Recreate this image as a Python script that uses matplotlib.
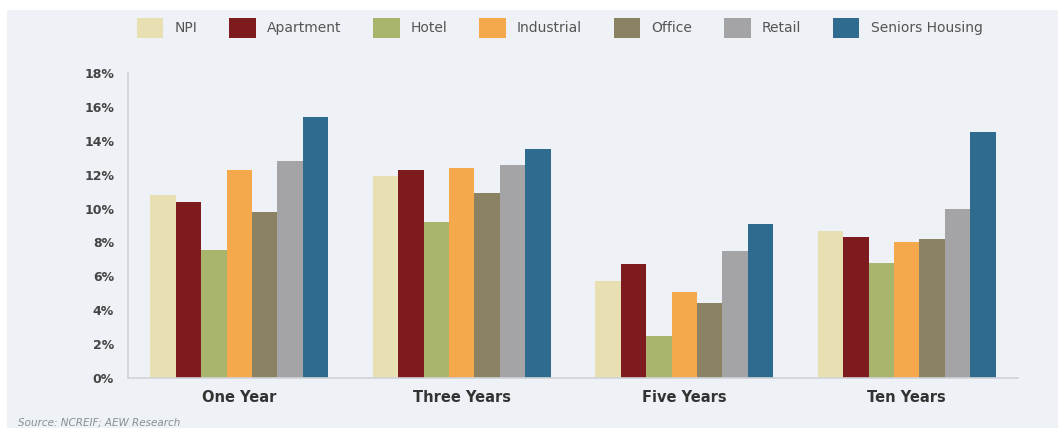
import matplotlib.pyplot as plt
import matplotlib.patches as patches
import numpy as np

# horizon groups and property types
periods = ['One Year', 'Three Years', 'Five Years', 'Ten Years']
sectors = ['NPI', 'Apartment', 'Hotel', 'Industrial', 'Office', 'Retail', 'Seniors Housing']

# returns (%) per sector, one value per period
npi = [10.8, 11.9, 5.7, 8.7]
apartment = [10.4, 12.3, 6.7, 8.3]
hotel = [7.55, 9.2, 2.5, 6.8]
industrial = [12.3, 12.4, 5.1, 8.0]
office = [9.8, 10.9, 4.4, 8.2]
retail = [12.8, 12.6, 7.5, 10.0]
seniors = [15.4, 13.5, 9.1, 14.5]

colors = ['#e8e0b2', '#7e1b1f', '#a9b46c', '#f6a84d', '#8b8163', '#a4a4a7', '#2f6a8f']
bg = '#eef1f5'

series = [npi, apartment, hotel, industrial, office, retail, seniors]

fig = plt.figure(figsize=(10.58, 4.30), dpi=100, facecolor='white')
# grey panel behind everything
fig.patches.append(patches.Rectangle((7 / 1058, 2 / 430), 1 - 7 / 1058, 1 - 12 / 430,
                                     transform=fig.transFigure, facecolor=bg,
                                     edgecolor='none', zorder=-10))

ax = fig.add_axes([128 / 1058, 1 - 378 / 430, 890 / 1058, 305 / 430])
ax.set_facecolor(bg)

x = np.arange(len(periods))
width = 0.8 / len(sectors)
for i, (vals, col, name) in enumerate(zip(series, colors, sectors)):
    ax.bar(x - 0.4 + width * (i + 0.5), vals, width, color=col, label=name, zorder=2)

ax.set_xlim(-0.5, len(periods) - 0.5)
ax.set_ylim(0, 18)
ax.set_yticks(np.arange(0, 19, 2))

tick_font = ['Liberation Sans Narrow', 'DejaVu Sans']
ax.set_yticklabels(['%d%%' % v for v in np.arange(0, 19, 2)],
                   family=tick_font, fontsize=9, fontweight='bold', color='#444444')
ax.set_xticks(x)
ax.set_xticklabels(periods, family=tick_font, fontsize=10.5, fontweight='bold', color='#333333')
ax.tick_params(axis='both', length=0)
ax.tick_params(axis='y', pad=10)
ax.tick_params(axis='x', pad=9)

for side in ['top', 'right']:
    ax.spines[side].set_visible(False)
ax.spines['left'].set_color('#cfd3d8')
ax.spines['bottom'].set_color('#cfd3d8')
ax.spines['left'].set_linewidth(1.2)
ax.spines['bottom'].set_linewidth(1.2)

leg = fig.legend(loc='center', bbox_to_anchor=(0.529, 1 - 28 / 430), ncol=7, frameon=False,
                 handlelength=1.9, handleheight=1.8, handletextpad=0.8, columnspacing=2.3,
                 prop={'family': 'DejaVu Sans', 'size': 10})
for t in leg.get_texts():
    t.set_color('#555555')

fig.text(18 / 1058, 1 - 423 / 430, 'Source: NCREIF; AEW Research', fontsize=7.5,
         style='italic', color='#8a8f96', va='center', ha='left')

fig.savefig('out.png', dpi=100, facecolor='white')
